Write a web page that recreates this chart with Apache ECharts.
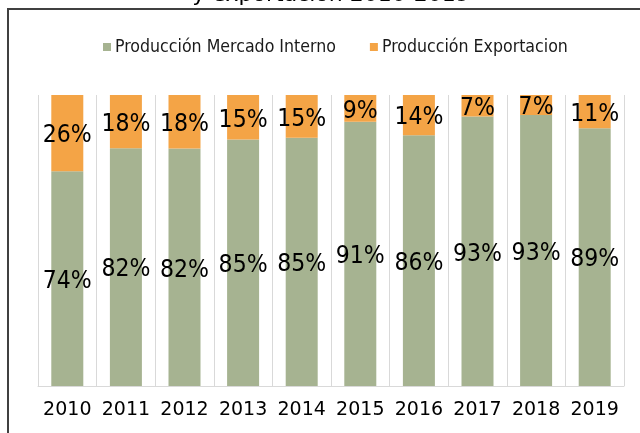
<!DOCTYPE html>
<html>
<head>
<meta charset="utf-8">
<script src="https://cdn.jsdelivr.net/npm/echarts@6/dist/echarts.min.js"></script>
<style>
  html, body { margin: 0; padding: 0; background: #fff; }
  #chart { width: 640px; height: 433px; }
</style>
</head>
<body>
<div id="chart"></div>
<script>
// data
const years = ['2010', '2011', '2012', '2013', '2014', '2015', '2016', '2017', '2018', '2019'];
const mercadoInterno = [73.8, 81.7, 81.6, 84.7, 85.3, 90.8, 86.2, 92.6, 93.1, 88.6];
const exportacion = [26.2, 18.3, 18.4, 15.3, 14.7, 9.2, 13.8, 7.4, 6.9, 11.4];
const titleText = 'y exportación 2010-2019';

const condensed = '"DejaVu Sans Condensed", sans-serif';

const chart = echarts.init(document.getElementById('chart'));

const pctLabel = {
  show: true,
  position: 'inside',
  offset: [0, 3],
  fontFamily: condensed,
  fontSize: 24.5,
  color: '#000',
  formatter: p => Math.round(p.value) + '%'
};

chart.setOption({
  animation: false,
  backgroundColor: '#fff',
  graphic: [
    {
      type: 'rect',
      shape: { x: 8, y: 9, width: 700, height: 500 },
      style: { fill: 'none', stroke: '#404040', lineWidth: 2 },
      silent: true
    },
    {
      type: 'text',
      x: 331,
      y: -5,
      style: {
        text: titleText,
        fontFamily: '"DejaVu Sans", sans-serif',
        fontSize: 22,
        fill: '#000',
        align: 'center',
        verticalAlign: 'middle'
      }
    }
  ],
  legend: {
    left: 98,
    top: 33,
    width: 560,
    itemWidth: 8,
    itemHeight: 8,
    itemGap: 34,
    icon: 'rect',
    textStyle: { fontFamily: condensed, fontSize: 17.6, color: '#1a1a1a', padding: [0, 0, 0, -1] },
    data: ['Producción Mercado Interno', 'Producción Exportacion']
  },
  grid: { left: 38, right: 16, top: 95, bottom: 47 },
  xAxis: {
    type: 'category',
    data: years,
    axisLine: { lineStyle: { color: '#d9d9d9', width: 1 } },
    axisTick: { show: false },
    splitLine: { show: true, lineStyle: { color: '#d9d9d9', width: 1 } },
    axisLabel: { interval: 0, fontFamily: '"DejaVu Sans", sans-serif', fontSize: 19, color: '#000', margin: 15 }
  },
  yAxis: {
    type: 'value',
    min: 0,
    max: 100,
    show: false
  },
  series: [
    {
      name: 'Producción Mercado Interno',
      type: 'bar',
      stack: 'total',
      barWidth: 32,
      data: mercadoInterno,
      itemStyle: { color: '#a6b391' },
      label: pctLabel
    },
    {
      name: 'Producción Exportacion',
      type: 'bar',
      stack: 'total',
      barWidth: 32,
      data: exportacion,
      itemStyle: { color: '#f4a446' },
      label: pctLabel
    }
  ]
});
</script>
</body>
</html>
